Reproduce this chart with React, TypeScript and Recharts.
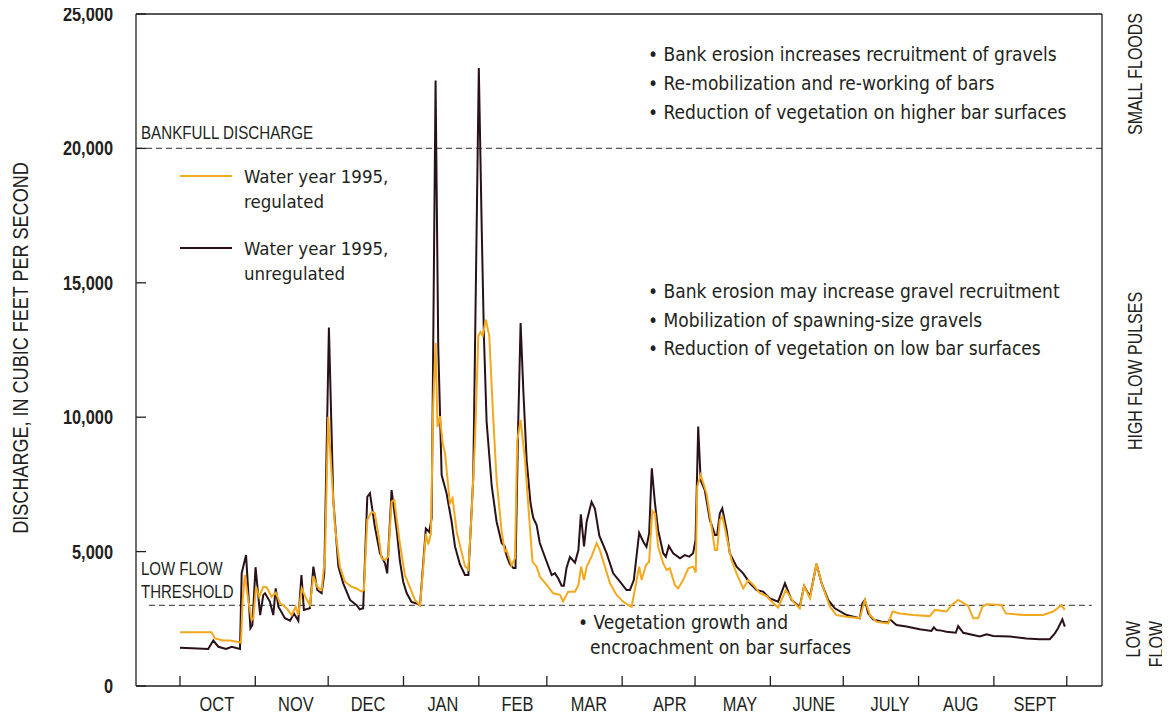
import React from 'react';
import { LineChart, Line, XAxis, YAxis, ReferenceLine } from 'recharts';

// water year 1995, day 0 = Oct 1
const monthStarts = [0, 31, 61, 92, 123, 151, 182, 212, 243, 273, 304, 335, 365];
const monthLabels = ['OCT', 'NOV', 'DEC', 'JAN', 'FEB', 'MAR', 'APR', 'MAY', 'JUNE', 'JULY', 'AUG', 'SEPT'];
const monthLabelDays = [15.2, 47.7, 77.4, 108.2, 138.9, 168.3, 201.6, 230.5, 260.9, 292.2, 321.4, 351.9];
const yTicks = [0, 5000, 10000, 15000, 20000, 25000];

const unregulatedDays = [
  0, 5, 11.6, 13.7, 15.8, 19, 21.3, 24.7, 25.4, 27.2, 29, 29.8, 31.1, 33, 34.3, 35, 37, 38.4, 39.4, 40.5,
  43.2, 45.3, 46.9, 48.7, 50, 51, 53.5, 54.9, 56.5, 58.3, 59.4, 61.3, 63.1, 65.2, 67.2, 70, 72.7, 74, 75.4, 77.1,
  78.2, 80.2, 82.3, 84.4, 85.3, 87.1, 89.2, 90.5, 91.9, 93.3, 95.3, 97.4, 98.8, 101.2, 102.6, 103.6, 105.2, 106.3, 107.7, 109.7,
  111.8, 113.2, 115.2, 117.3, 118.7, 120.7, 122.1, 123, 124.2, 125.1, 126.2, 128.3, 130.3, 132.4, 133.7, 134.4, 135.8, 137.2, 138.1, 139.2,
  140.2, 141.3, 142.7, 144.3, 145.4, 146.8, 148.1, 150.2, 153, 154.3, 155.7, 157.1, 158, 159.1, 160.5, 162.6, 164, 165, 166.3, 167.4,
  169.4, 170.8, 172.6, 175.6, 178.3, 181.1, 183.8, 185.2, 186.8, 189, 190.7, 192, 193.1, 194.2, 195.5, 196.8, 198.9, 200, 201.2, 203,
  205.8, 207.8, 209.6, 211.2, 212.2, 213.3, 214.3, 216, 218.1, 220.2, 221.1, 222.2, 223.2, 225, 226.3, 229.1, 231.8, 234.6, 237.3, 240,
  242.8, 246.2, 249, 251.7, 255.1, 256.9, 259.3, 262, 264.1, 266.8, 269.5, 274.4, 279.8, 280.9, 281.9, 283.3, 285.3, 288.8, 291.5, 292.2,
  294.9, 299, 304.5, 309.3, 310.3, 311.4, 313.4, 315.5, 319.3, 320.3, 322.4, 326.5, 329.2, 332, 334.7, 341.6, 348.4, 353.9, 358, 360.1,
  361.4, 363.2, 364.2,
];
const unregulatedFlow = [
  1420, 1400, 1380, 1690, 1460, 1380, 1460, 1380, 4190, 4870, 2150, 2270, 4420, 2640, 3390, 3450, 3140, 2640, 3630, 2950,
  2520, 2430, 2700, 2430, 4130, 2830, 2890, 4440, 3570, 3450, 4190, 13340, 6920, 4440, 3820, 3200, 3010, 2850, 2890, 7040,
  7170, 5930, 4940, 4560, 4190, 7290, 5800, 4660, 3870, 3460, 3130, 3070, 3000, 5860, 5730, 6250, 22530, 12630, 7850, 7180,
  6120, 5190, 4530, 4130, 4130, 7720, 17000, 22990, 17000, 13030, 9840, 7450, 6120, 5320, 5190, 4860, 4530, 4390, 4390, 9710,
  13500, 11040, 8380, 6790, 6250, 5990, 5320, 4800, 4130, 4200, 4000, 3730, 3730, 4390, 4800, 4590, 5060, 6390, 5190, 6120,
  6850, 6590, 5590, 4940, 4190, 3880, 3570, 3570, 3940, 5700, 5370, 5180, 5670, 8100, 6800, 5800, 4940, 4810, 5210, 4940,
  4750, 4870, 4810, 4940, 5430, 9650, 7660, 7290, 6180, 5620, 5620, 6420, 6610, 5800, 4940, 4440, 4190, 3820, 3570, 3510,
  3260, 3140, 3820, 3200, 2950, 3720, 3320, 4540, 3820, 3200, 2890, 2640, 2520, 3080, 3200, 2700, 2480, 2390, 2360, 2480,
  2270, 2210, 2110, 2050, 2180, 2080, 2060, 2020, 1980, 2230, 1980, 1900, 1840, 1920, 1860, 1840, 1770, 1740, 1740, 1960,
  2150, 2480, 2210,
];

const regulatedDays = [
  0, 13, 14.4, 17.8, 20.6, 23.3, 25.1, 25.8, 26.7, 28.1, 29.5, 30.2, 31.3, 32.6, 34.3, 35.7, 37.7, 39.4, 41.2, 43.9,
  46, 47.6, 48.7, 50.1, 51.9, 53.5, 54.9, 56.5, 58.3, 59.7, 61, 62.4, 63.8, 65.8, 67.9, 70.6, 72.7, 74.8, 75.7, 77.1,
  78.9, 80.2, 81.6, 83, 84.4, 85.7, 87.1, 88.2, 90.5, 92.6, 94.7, 96.7, 98.8, 100.1, 101.2, 102.2, 103.3, 104.2, 105.2, 106,
  107, 108.1, 109.1, 111.1, 112.2, 113.9, 115.9, 117.3, 118.7, 120, 121.4, 122.8, 123.7, 124.6, 125.9, 127.3, 128.7, 130.3, 132.4, 133.7,
  134.4, 136.5, 137.9, 138.8, 140.2, 142, 143.8, 145.1, 146.8, 148.1, 150.9, 153.6, 156.4, 157.7, 159.8, 162.6, 164, 165.1, 166.3, 167.4,
  169.4, 171.5, 172.8, 174.9, 177, 179.7, 182.4, 184.5, 185.9, 187.2, 189, 190, 191.8, 193.1, 194.4, 195.5, 196.8, 198.9, 200.3, 201.6,
  203.7, 205, 207.1, 209.2, 211.2, 212.3, 212.9, 214.3, 216.7, 218.8, 220.2, 221.1, 222.2, 223.3, 225, 227, 229.1, 231.8, 233.9, 236,
  238.7, 241.4, 244.2, 246.2, 249.4, 252.4, 255.1, 256.9, 259.3, 262, 264.1, 267.5, 270.2, 274.4, 279.8, 281.9, 284, 286.7, 291.5, 293.3,
  296.3, 301.8, 308.6, 310.7, 315.5, 317.6, 320.3, 324.4, 326.5, 328.5, 330.3, 332, 338.1, 339.9, 347, 355.3, 359.4, 362.8, 364.2,
];
const regulatedFlow = [
  2000, 2000, 1770, 1690, 1690, 1650, 1620, 3200, 4130, 3200, 2460, 2520, 3690, 3320, 3690, 3670, 3320, 3470, 3080, 2890,
  2640, 2950, 2640, 3630, 3260, 3010, 4090, 3690, 3570, 4810, 10020, 7910, 5930, 4440, 3880, 3690, 3630, 3510, 3570, 6180,
  6480, 6420, 5680, 4750, 4690, 4810, 6860, 6920, 5310, 4120, 3660, 3200, 3000, 4390, 5660, 5260, 5660, 10380, 12760, 9640,
  10040, 9040, 8650, 6790, 6990, 5730, 4990, 4460, 4330, 6390, 9040, 13030, 13170, 13030, 13630, 13030, 10380, 7700, 5750, 5000,
  5060, 4480, 4750, 9100, 9900, 8410, 6180, 4620, 4440, 4070, 3760, 3450, 3390, 3140, 3510, 3510, 3760, 4440, 3940, 4440,
  4810, 5310, 5060, 4440, 3820, 3390, 3140, 3010, 2950, 3570, 4440, 3940, 4500, 4620, 6520, 6420, 5180, 4560, 4320, 4380,
  3760, 3630, 3940, 4380, 4440, 4220, 7420, 7850, 7170, 5930, 5060, 5060, 6180, 6300, 5560, 4690, 4190, 3630, 3940, 3760,
  3450, 3350, 3080, 2920, 3570, 3140, 2890, 3720, 3260, 4560, 3820, 2950, 2640, 2580, 2520, 3200, 2640, 2390, 2330, 2770,
  2700, 2640, 2600, 2830, 2770, 3010, 3200, 2980, 2520, 2520, 2950, 3040, 3010, 2700, 2640, 2640, 2770, 3010, 2830,
];

const BANKFULL = 20000;
const LOW_FLOW = 3000;
const LOW_FLOW_SPAN = [-12.8, 375.3];

const W = 1170;
const H = 719;
const X_DOMAIN: [number, number] = [-18.1, 379.5];
const INK = '#231F20';
const ORANGE = '#F4A81D';
const DARK = '#2A1117';
const SANS = '"Liberation Sans", Arial, sans-serif';
const COND = '"DejaVu Sans Condensed", "Liberation Sans Narrow", sans-serif';
const NARROW = 0.82;

const unregulated = unregulatedDays.map((day, i) => ({ day, flow: unregulatedFlow[i] }));
const regulated = regulatedDays.map((day, i) => ({ day, flow: regulatedFlow[i] }));
const bottomTicks = [...monthStarts, ...monthLabelDays].sort((a, b) => a - b);

const series = [
  { name: ['Water year 1995,', 'regulated'], color: ORANGE },
  { name: ['Water year 1995,', 'unregulated'], color: DARK },
];

const axisLine = { stroke: INK, strokeWidth: 1.3 };

// Arial squeezed to narrow proportions for the capitals and figures
function NarrowText(props: {
  x: number;
  y: number;
  size: number;
  rotate?: number;
  anchor?: 'start' | 'middle' | 'end';
  weight?: string;
  children: React.ReactNode;
}) {
  const { x, y, size, rotate = 0, anchor = 'start', weight = 'normal', children } = props;
  return (
    <text
      transform={`translate(${x},${y}) rotate(${rotate}) scale(${NARROW},1)`}
      textAnchor={anchor}
      fontSize={size}
      fontFamily={SANS}
      fontWeight={weight}
      fill={INK}
    >
      {children}
    </text>
  );
}

const YTick = (props: any) => (
  <NarrowText x={props.x} y={props.y + 7} size={20} anchor="end" weight="bold">
    {Number(props.payload.value).toLocaleString('en-US')}
  </NarrowText>
);

const MonthTick = (props: any) => {
  const { x, y, payload } = props;
  const i = monthLabelDays.indexOf(payload.value);
  if (i >= 0) {
    return (
      <NarrowText x={x} y={y + 25} size={20} anchor="middle">
        {monthLabels[i]}
      </NarrowText>
    );
  }
  return <line x1={x} x2={x} y1={y} y2={y - 10} stroke={INK} strokeWidth={1.3} />;
};

export default function App() {
  return (
    <div style={{ position: 'relative', width: W, height: H, margin: -8 }}>
      <LineChart width={W} height={H} margin={{ top: 13, right: 67, bottom: 0, left: 0 }}>
        <XAxis
          xAxisId="main"
          type="number"
          dataKey="day"
          domain={X_DOMAIN}
          allowDataOverflow
          ticks={bottomTicks}
          interval={0}
          tickSize={0}
          tickMargin={0}
          tickLine={false}
          tick={<MonthTick />}
          height={33}
          axisLine={axisLine}
        />
        <XAxis
          xAxisId="top"
          orientation="top"
          type="number"
          dataKey="day"
          domain={X_DOMAIN}
          allowDataOverflow
          ticks={monthStarts}
          interval={0}
          tick={false}
          tickSize={-10}
          height={1}
          axisLine={axisLine}
          tickLine={axisLine}
        />
        <YAxis
          yAxisId="left"
          type="number"
          domain={[0, 25000]}
          ticks={yTicks}
          interval={0}
          width={136}
          tickSize={-10}
          tickMargin={33}
          axisLine={axisLine}
          tickLine={axisLine}
          tick={<YTick />}
        />
        <YAxis
          yAxisId="right"
          orientation="right"
          type="number"
          domain={[0, 25000]}
          ticks={yTicks}
          interval={0}
          width={1}
          tick={false}
          tickSize={-10}
          axisLine={axisLine}
          tickLine={axisLine}
        />
        <ReferenceLine xAxisId="main" yAxisId="left" y={BANKFULL} stroke="#555" strokeWidth={1.2} strokeDasharray="6 4" />
        <ReferenceLine
          xAxisId="main"
          yAxisId="left"
          segment={[
            { x: LOW_FLOW_SPAN[0], y: LOW_FLOW },
            { x: LOW_FLOW_SPAN[1], y: LOW_FLOW },
          ]}
          stroke="#555"
          strokeWidth={1.2}
          strokeDasharray="6 4"
        />
        <Line
          xAxisId="main"
          yAxisId="left"
          data={unregulated}
          dataKey="flow"
          type="linear"
          stroke={DARK}
          strokeWidth={2}
          dot={false}
          isAnimationActive={false}
        />
        <Line
          xAxisId="main"
          yAxisId="left"
          data={regulated}
          dataKey="flow"
          type="linear"
          stroke={ORANGE}
          strokeWidth={2}
          dot={false}
          isAnimationActive={false}
        />
      </LineChart>

      <svg width={W} height={H} style={{ position: 'absolute', left: 0, top: 0, pointerEvents: 'none' }}>
        <NarrowText x={28} y={348} rotate={-90} anchor="middle" size={22}>
          DISCHARGE, IN CUBIC FEET PER SECOND
        </NarrowText>

        <NarrowText x={141} y={139} size={18.5}>BANKFULL DISCHARGE</NarrowText>
        <NarrowText x={141} y={575} size={18.3}>LOW FLOW</NarrowText>
        <NarrowText x={141} y={598} size={18.3}>THRESHOLD</NarrowText>

        <NarrowText x={1142} y={74} rotate={-90} anchor="middle" size={19.5}>SMALL FLOODS</NarrowText>
        <NarrowText x={1142} y={371} rotate={-90} anchor="middle" size={19.5}>HIGH FLOW PULSES</NarrowText>
        <NarrowText x={1140} y={621} rotate={-90} anchor="end" size={19.5}>LOW</NarrowText>
        <NarrowText x={1163} y={621} rotate={-90} anchor="end" size={19.5}>FLOW</NarrowText>

        <g fontFamily={COND} fontSize={19} fill={INK}>
          <text x={648} y={61}>• Bank erosion increases recruitment of gravels</text>
          <text x={648} y={90}>• Re-mobilization and re-working of bars</text>
          <text x={648} y={119}>• Reduction of vegetation on higher bar surfaces</text>
          <text x={648} y={298}>• Bank erosion may increase gravel recruitment</text>
          <text x={648} y={327}>• Mobilization of spawning-size gravels</text>
          <text x={648} y={355}>• Reduction of vegetation on low bar surfaces</text>
          <text x={578} y={629}>• Vegetation growth and</text>
          <text x={590} y={654}>encroachment on bar surfaces</text>
        </g>

        {series.map((s, i) => (
          <g key={s.color} transform={`translate(0,${i * 72})`} fontFamily={COND} fontSize={18.5} fill={INK}>
            <line x1={180} x2={232} y1={176} y2={176} stroke={s.color} strokeWidth={2} />
            <text x={244} y={183}>{s.name[0]}</text>
            <text x={244} y={208}>{s.name[1]}</text>
          </g>
        ))}
      </svg>
    </div>
  );
}
